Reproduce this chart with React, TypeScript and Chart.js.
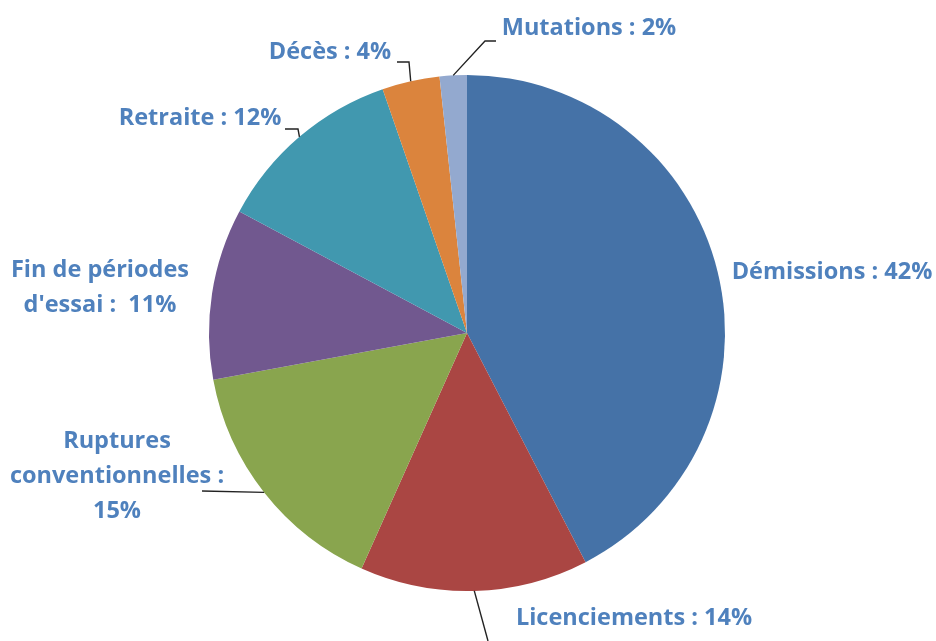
import React, { useEffect, useRef } from "react";
import { Chart, registerables } from "chart.js";

Chart.register(...registerables);

const categories = [
  "Démissions",
  "Licenciements",
  "Ruptures conventionnelles",
  "Fin de périodes d'essai",
  "Retraite",
  "Décès",
  "Mutations",
];
// shares
const values = [42.4, 14.3, 15.4, 10.7, 11.9, 3.6, 1.7];
const labelTexts = [
  ["Démissions : 42%"],
  ["Licenciements : 14%"],
  ["Ruptures", "conventionnelles :", "15%"],
  ["Fin de périodes", "d'essai :  11%"],
  ["Retraite : 12%"],
  ["Décès : 4%"],
  ["Mutations : 2%"],
];
const colors = ["#4572A7", "#AA4643", "#89A54E", "#71588F", "#4198AF", "#DB843D", "#93A9CF"];

// label layout (text centre, and leader elbows) — layout only
const labelLayout = [
  { x: 832, y: 272, leader: null },
  { x: 634, y: 618, leader: [[488, 641]] },
  { x: 117, y: 441, leader: [[202, 491]] },
  { x: 100, y: 270, leader: null },
  { x: 200, y: 118, leader: [[298, 129], [285, 129]] },
  { x: 330, y: 52, leader: [[409, 62], [397, 62]] },
  { x: 589, y: 28, leader: [[485, 41], [496, 41]] },
];

const labelPlugin = {
  id: "outerLabels",
  afterDraw(chart: any) {
    const ctx = chart.ctx;
    const meta = chart.getDatasetMeta(0);
    ctx.save();
    meta.data.forEach((arc: any, i: number) => {
      const lay = labelLayout[i];
      const mid = (arc.startAngle + arc.endAngle) / 2;
      const ax = arc.x + Math.cos(mid) * arc.outerRadius;
      const ay = arc.y + Math.sin(mid) * arc.outerRadius;
      if (lay.leader) {
        ctx.beginPath();
        ctx.strokeStyle = "#222";
        ctx.lineWidth = 1.4;
        ctx.moveTo(ax, ay);
        lay.leader.forEach((p: number[]) => ctx.lineTo(p[0], p[1]));
        ctx.stroke();
      }
      ctx.fillStyle = "#4F81BD";
      ctx.font = "bold 23.5px 'Open Sans'";
      ctx.textAlign = "center";
      ctx.textBaseline = "middle";
      labelTexts[i].forEach((t, j) => {
        ctx.fillText(t, lay.x, lay.y + j * 35);
      });
    });
    ctx.restore();
  },
};

export default function App() {
  const ref = useRef<HTMLCanvasElement>(null);
  useEffect(() => {
    document.body.style.margin = "0";
    const chart = new Chart(ref.current!, {
      type: "pie",
      data: {
        labels: categories,
        datasets: [
          {
            data: values,
            backgroundColor: colors,
            borderWidth: 0,
          },
        ],
      },
      options: {
        animation: false,
        responsive: false,
        events: [],
        layout: { padding: { top: 75, bottom: 50, left: 100, right: 102 } },
        plugins: {
          legend: { display: false },
          tooltip: { enabled: false },
        },
      },
      plugins: [labelPlugin],
    });
    return () => chart.destroy();
  }, []);
  return (
    <div style={{ width: 936, height: 641, background: "#fff" }}>
      <canvas ref={ref} width={936} height={641} />
    </div>
  );
}
